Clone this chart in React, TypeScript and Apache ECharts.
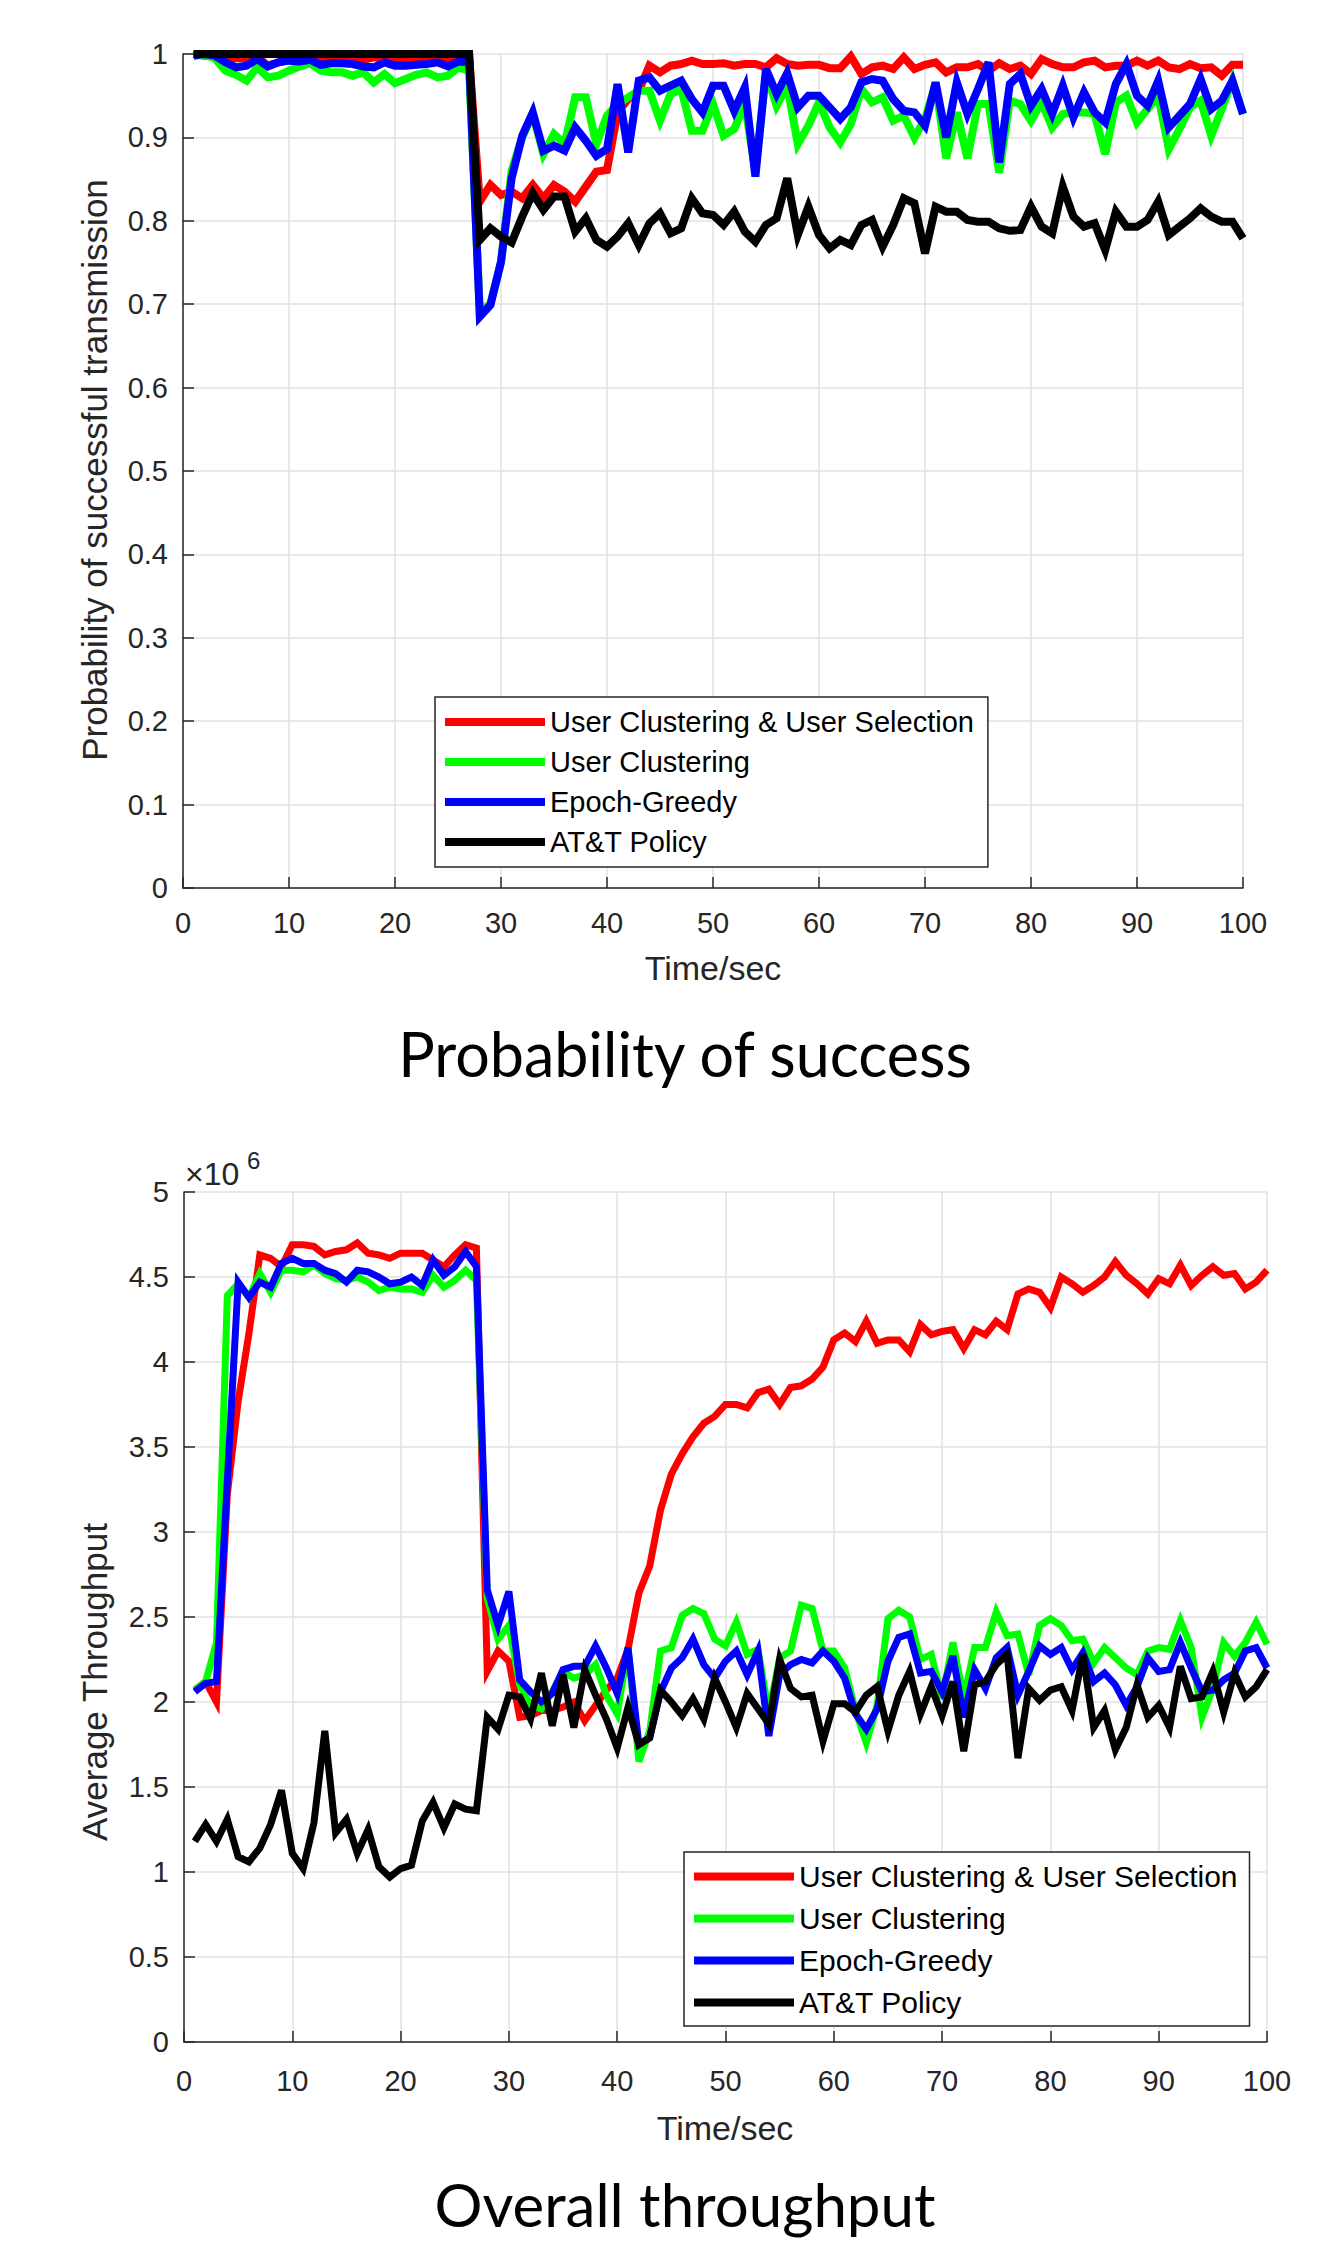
import React, { useEffect, useRef } from "react";
import * as echarts from "echarts";

const SERIES_NAMES = [
  "User Clustering & User Selection",
  "User Clustering",
  "Epoch-Greedy",
  "AT&T Policy",
];
const COLORS = ["#ff0000", "#00ff00", "#0000ff", "#000000"];

const TIME = Array.from({ length: 100 }, (_, i) => i + 1);

// Probability of successful transmission
const P_RED = [
  1.0, 0.998, 0.997, 0.996, 0.995, 0.995, 0.997, 0.986, 0.99, 0.993,
  0.995, 0.996, 0.995, 0.994, 0.996, 0.994, 0.993, 0.996, 0.995, 0.994,
  0.995, 0.994, 0.996, 0.995, 0.993, 0.996, 0.995, 0.823, 0.843, 0.831,
  0.835, 0.827, 0.843, 0.827, 0.843, 0.835, 0.823, 0.841, 0.859, 0.861,
  0.93, 0.946, 0.956, 0.986, 0.978, 0.986, 0.988, 0.992, 0.988, 0.988,
  0.989, 0.986, 0.988, 0.988, 0.984, 0.995, 0.988, 0.986, 0.987, 0.987,
  0.983, 0.983, 0.997, 0.976, 0.984, 0.986, 0.982, 0.996, 0.982, 0.987,
  0.99, 0.978, 0.984, 0.984, 0.988, 0.98, 0.989, 0.982, 0.986, 0.976,
  0.994, 0.988, 0.984, 0.984, 0.99, 0.992, 0.984, 0.986, 0.986, 0.992,
  0.986, 0.992, 0.984, 0.982, 0.988, 0.983, 0.984, 0.974, 0.987, 0.987,
];
const P_GREEN = [
  0.998, 0.999, 0.995, 0.98, 0.975, 0.968, 0.984, 0.972, 0.974, 0.98,
  0.985, 0.989, 0.98, 0.978, 0.978, 0.974, 0.978, 0.966, 0.976, 0.965,
  0.97, 0.975, 0.978, 0.972, 0.974, 0.984, 0.98, 0.692, 0.7, 0.75,
  0.86, 0.9, 0.928, 0.88, 0.904, 0.892, 0.948, 0.948, 0.892, 0.926,
  0.94, 0.948, 0.956, 0.956, 0.92, 0.952, 0.958, 0.908, 0.908, 0.94,
  0.902, 0.91, 0.94, 0.86, 0.978, 0.938, 0.962, 0.892, 0.914, 0.942,
  0.912, 0.894, 0.916, 0.958, 0.942, 0.948, 0.92, 0.926, 0.9, 0.922,
  0.964, 0.875, 0.93, 0.875, 0.94, 0.94, 0.858, 0.944, 0.94, 0.92,
  0.942, 0.912, 0.928, 0.93, 0.93, 0.928, 0.88, 0.942, 0.95, 0.918,
  0.934, 0.95, 0.886, 0.91, 0.936, 0.944, 0.902, 0.934, 0.968, 0.928,
];
const P_BLUE = [
  0.998, 1.0, 0.998, 0.99, 0.984, 0.986, 0.994, 0.985, 0.99, 0.992,
  0.991, 0.993, 0.987, 0.989, 0.989, 0.988, 0.985, 0.984, 0.99, 0.986,
  0.986, 0.987, 0.988, 0.99, 0.985, 0.991, 0.99, 0.685, 0.699, 0.751,
  0.851, 0.902, 0.93, 0.884, 0.89, 0.884, 0.912, 0.896, 0.878, 0.886,
  0.964, 0.882, 0.968, 0.972, 0.956, 0.962, 0.968, 0.946, 0.93, 0.962,
  0.962, 0.932, 0.96, 0.853, 0.982, 0.952, 0.977, 0.936, 0.95, 0.95,
  0.936, 0.922, 0.936, 0.966, 0.97, 0.968, 0.946, 0.932, 0.93, 0.914,
  0.966, 0.9, 0.966, 0.928, 0.958, 0.99, 0.87, 0.964, 0.976, 0.938,
  0.958, 0.928, 0.962, 0.924, 0.954, 0.93, 0.918, 0.964, 0.988, 0.95,
  0.938, 0.968, 0.912, 0.926, 0.94, 0.97, 0.934, 0.944, 0.968, 0.928,
];
const P_BLACK = [
  1.0, 1.0, 1.0, 1.0, 1.0, 1.0, 1.0, 1.0, 1.0, 1.0,
  1.0, 1.0, 1.0, 1.0, 1.0, 1.0, 1.0, 1.0, 1.0, 1.0,
  1.0, 1.0, 1.0, 1.0, 1.0, 1.0, 1.0, 0.777, 0.791, 0.781,
  0.774, 0.805, 0.833, 0.813, 0.829, 0.829, 0.787, 0.803, 0.777, 0.769,
  0.781, 0.797, 0.771, 0.797, 0.809, 0.785, 0.791, 0.827, 0.809, 0.807,
  0.795, 0.811, 0.787, 0.775, 0.795, 0.803, 0.851, 0.783, 0.817, 0.783,
  0.767, 0.777, 0.771, 0.795, 0.801, 0.769, 0.795, 0.827, 0.821, 0.761,
  0.817, 0.811, 0.811, 0.801, 0.799, 0.799, 0.791, 0.788, 0.789, 0.817,
  0.793, 0.785, 0.841, 0.805, 0.793, 0.797, 0.765, 0.811, 0.793, 0.793,
  0.801, 0.823, 0.783, 0.793, 0.803, 0.815, 0.805, 0.799, 0.799, 0.779,
];

// Average throughput, in units of 10^6
const T_RED = [
  2.07, 2.12, 2.0, 3.22, 3.77, 4.17, 4.63, 4.61, 4.56, 4.69,
  4.69, 4.68, 4.63, 4.65, 4.66, 4.7, 4.64, 4.63, 4.61, 4.64,
  4.64, 4.64, 4.6, 4.56, 4.63, 4.69, 4.67, 2.18, 2.3, 2.24,
  1.91, 1.92, 1.95, 1.95, 1.97, 2.0, 1.89, 1.98, 2.07, 2.14,
  2.31, 2.64, 2.8, 3.13, 3.34, 3.46, 3.56, 3.64, 3.68, 3.75,
  3.75, 3.73, 3.82, 3.84, 3.75, 3.85, 3.86, 3.9, 3.97, 4.13,
  4.17, 4.12, 4.24, 4.11, 4.13, 4.13, 4.06, 4.22, 4.16, 4.18,
  4.19, 4.08, 4.19, 4.16, 4.24, 4.19, 4.4, 4.43, 4.41, 4.32,
  4.5, 4.46, 4.41, 4.45, 4.5, 4.59, 4.51, 4.46, 4.4, 4.49,
  4.46, 4.57, 4.45, 4.51, 4.56, 4.51, 4.52, 4.43, 4.47, 4.54,
];
const T_GREEN = [
  2.07, 2.12, 2.35, 4.39, 4.46, 4.38, 4.52, 4.41, 4.54, 4.54,
  4.53, 4.57, 4.52, 4.49, 4.48, 4.5, 4.47, 4.42, 4.44, 4.43,
  4.43, 4.41, 4.51, 4.44, 4.48, 4.54, 4.48, 2.61, 2.37, 2.45,
  2.1, 1.98, 1.96, 2.06, 2.18, 2.14, 2.16, 2.22, 2.04, 1.93,
  2.32, 1.65, 1.83, 2.3, 2.32, 2.51, 2.55, 2.52, 2.37, 2.33,
  2.47, 2.28, 2.31, 1.93, 2.26, 2.3, 2.57, 2.55, 2.3, 2.3,
  2.2, 1.95, 1.76, 1.98, 2.49, 2.54, 2.5, 2.25, 2.28, 2.02,
  2.35, 2.02, 2.32, 2.32, 2.53, 2.39, 2.4, 2.16, 2.45, 2.49,
  2.45, 2.36, 2.37, 2.23, 2.32, 2.26, 2.2, 2.16, 2.3, 2.32,
  2.31, 2.48, 2.32, 1.91, 2.08, 2.35, 2.27, 2.35, 2.47, 2.34,
];
const T_BLUE = [
  2.06, 2.11, 2.12, 3.3, 4.47, 4.38, 4.47, 4.44, 4.58, 4.61,
  4.58, 4.58, 4.54, 4.52, 4.47, 4.54, 4.53, 4.5, 4.46, 4.47,
  4.5, 4.45, 4.6, 4.51, 4.56, 4.65, 4.56, 2.66, 2.45, 2.65,
  2.13, 2.06, 2.0, 2.05, 2.19, 2.21, 2.21, 2.33, 2.2, 2.05,
  2.32, 1.75, 1.79, 2.06, 2.2, 2.26, 2.37, 2.22, 2.14, 2.24,
  2.3, 2.16, 2.3, 1.8, 2.16, 2.22, 2.25, 2.23, 2.3, 2.24,
  2.14, 1.93, 1.84, 1.96, 2.24, 2.38, 2.4, 2.17, 2.18, 2.06,
  2.27, 1.91, 2.19, 2.08, 2.26, 2.32, 2.04, 2.18, 2.33, 2.28,
  2.32, 2.19, 2.29, 2.12, 2.17, 2.1, 1.98, 2.09, 2.26, 2.18,
  2.19, 2.35, 2.2, 2.06, 2.07, 2.13, 2.17, 2.3, 2.32, 2.2,
];
const T_BLACK = [
  1.18, 1.28, 1.18, 1.31, 1.09, 1.06, 1.14, 1.28, 1.48, 1.11,
  1.02, 1.29, 1.83, 1.23, 1.31, 1.11, 1.25, 1.03, 0.97, 1.02,
  1.04, 1.3, 1.41, 1.26, 1.4, 1.37, 1.36, 1.91, 1.84, 2.04,
  2.03, 1.9, 2.17, 1.86, 2.16, 1.85, 2.19, 2.04, 1.9, 1.73,
  1.97, 1.75, 1.79, 2.07, 2.0, 1.92, 2.02, 1.9, 2.14, 2.0,
  1.85, 2.05, 1.96, 1.87, 2.25, 2.08, 2.03, 2.04, 1.77, 1.99,
  1.99, 1.94, 2.04, 2.09, 1.83, 2.04, 2.18, 1.93, 2.09, 1.92,
  2.12, 1.71, 2.1, 2.12, 2.22, 2.28, 1.67, 2.08, 2.01, 2.07,
  2.09, 1.95, 2.28, 1.85, 1.95, 1.72, 1.85, 2.1, 1.91, 1.98,
  1.85, 2.21, 2.02, 2.03, 2.18, 1.94, 2.17, 2.03, 2.09, 2.19,
];

const TOP_SERIES = [P_RED, P_GREEN, P_BLUE, P_BLACK];
const BOTTOM_SERIES = [T_RED, T_GREEN, T_BLUE, T_BLACK];

const AX = "#262626";
const GRIDC = "#e2e2e2";
const FONT = "Liberation Sans, Arial, Helvetica, sans-serif";
const TITLE_FONT = "Lato, 'Open Sans', sans-serif";

function axisCommon(extra: any) {
  return {
    axisLine: { show: true, onZero: false, lineStyle: { color: AX, width: 1.5 } },
    axisTick: { show: true, inside: true, length: 11, lineStyle: { color: AX, width: 1.5 } },
    splitLine: { show: true, lineStyle: { color: GRIDC, width: 1.5 } },
    axisLabel: { color: AX, fontSize: 29, fontFamily: FONT },
    ...extra,
  };
}

export default function App() {
  const ref = useRef<HTMLDivElement>(null);

  useEffect(() => {
    if (!ref.current) return;
    const chart = echarts.init(ref.current, null, { renderer: "svg" });

    const series: any[] = [];
    TOP_SERIES.forEach((vals, i) => {
      series.push({
        name: SERIES_NAMES[i],
        type: "line",
        xAxisIndex: 0,
        yAxisIndex: 0,
        data: TIME.map((t, k) => [t, vals[k]]),
        showSymbol: false,
        symbol: "none",
        lineStyle: { color: COLORS[i], width: 8, join: "miter" },
        itemStyle: { color: COLORS[i] },
        z: 2 + i,
      });
    });
    BOTTOM_SERIES.forEach((vals, i) => {
      series.push({
        name: SERIES_NAMES[i],
        type: "line",
        xAxisIndex: 1,
        yAxisIndex: 1,
        data: TIME.map((t, k) => [t, vals[k]]),
        showSymbol: false,
        symbol: "none",
        lineStyle: { color: COLORS[i], width: 7, join: "miter" },
        itemStyle: { color: COLORS[i] },
        z: 2 + i,
      });
    });

    const legendCommon = {
      orient: "vertical",
      icon: "rect",
      itemWidth: 100,
      itemHeight: 8,
      backgroundColor: "#ffffff",
      borderColor: AX,
      borderWidth: 1.5,
      borderRadius: 0,
      data: SERIES_NAMES,
      selectedMode: false,
    };

    const textEl = (
      text: string,
      x: number,
      y: number,
      font: string,
      rot = 0,
      align = "center",
      fill = AX
    ) => ({
      type: "text",
      x,
      y,
      rotation: rot,
      z: 100,
      style: {
        text,
        fill,
        font,
        textAlign: align,
        align,
        textVerticalAlign: "middle",
        verticalAlign: "middle",
      },
    });

    const fmt = (v: number) => String(Math.round(v * 10) / 10);

    chart.setOption({
      animation: false,
      backgroundColor: "#ffffff",
      grid: [
        { left: 183, top: 54, width: 1060, height: 834, containLabel: false },
        { left: 184, top: 1192, width: 1083, height: 850, containLabel: false },
      ],
      xAxis: [
        axisCommon({
          type: "value",
          gridIndex: 0,
          min: 0,
          max: 100,
          interval: 10,
          axisLabel: { color: AX, fontSize: 29, fontFamily: FONT, margin: 20 },
        }),
        axisCommon({
          type: "value",
          gridIndex: 1,
          min: 0,
          max: 100,
          interval: 10,
          axisLabel: { color: AX, fontSize: 29, fontFamily: FONT, margin: 24 },
        }),
      ],
      yAxis: [
        axisCommon({
          type: "value",
          gridIndex: 0,
          min: 0,
          max: 1,
          interval: 0.1,
          axisLabel: { color: AX, fontSize: 29, fontFamily: FONT, margin: 15, formatter: fmt },
        }),
        axisCommon({
          type: "value",
          gridIndex: 1,
          min: 0,
          max: 5,
          interval: 0.5,
          axisLabel: { color: AX, fontSize: 29, fontFamily: FONT, margin: 15, formatter: fmt },
        }),
      ],
      legend: [
        {
          ...legendCommon,
          left: 435,
          top: 697,
          padding: [10, 14, 10, 10],
          itemGap: 10,
          textStyle: { color: "#000", fontSize: 29, fontFamily: FONT, lineHeight: 30 },
        },
        {
          ...legendCommon,
          left: 684,
          top: 1852,
          padding: [9, 12, 8, 10],
          itemGap: 11,
          textStyle: { color: "#000", fontSize: 30, fontFamily: FONT, lineHeight: 31 },
        },
      ],
      graphic: [
        textEl("Probability of successful transmission", 94, 470, `35px ${FONT}`, Math.PI / 2),
        textEl("Time/sec", 713, 968, `34px ${FONT}`),
        textEl("Probability of success", 685, 1053, `400 61px ${TITLE_FONT}`, 0, "center", "#000"),
        textEl("Average Throughput", 94, 1682, `35px ${FONT}`, Math.PI / 2),
        textEl("Time/sec", 725, 2128, `34px ${FONT}`),
        textEl("Overall throughput", 685, 2204, `400 60px ${TITLE_FONT}`, 0, "center", "#000"),
        textEl("×10", 185, 1174, `32px ${FONT}`, 0, "left"),
        textEl("6", 247, 1160, `24px ${FONT}`, 0, "left"),
      ],
      series,
    });

    return () => chart.dispose();
  }, []);

  return (
    <div
      ref={ref}
      style={{ position: "absolute", left: 0, top: 0, width: 1337, height: 2242, background: "#fff" }}
    />
  );
}
